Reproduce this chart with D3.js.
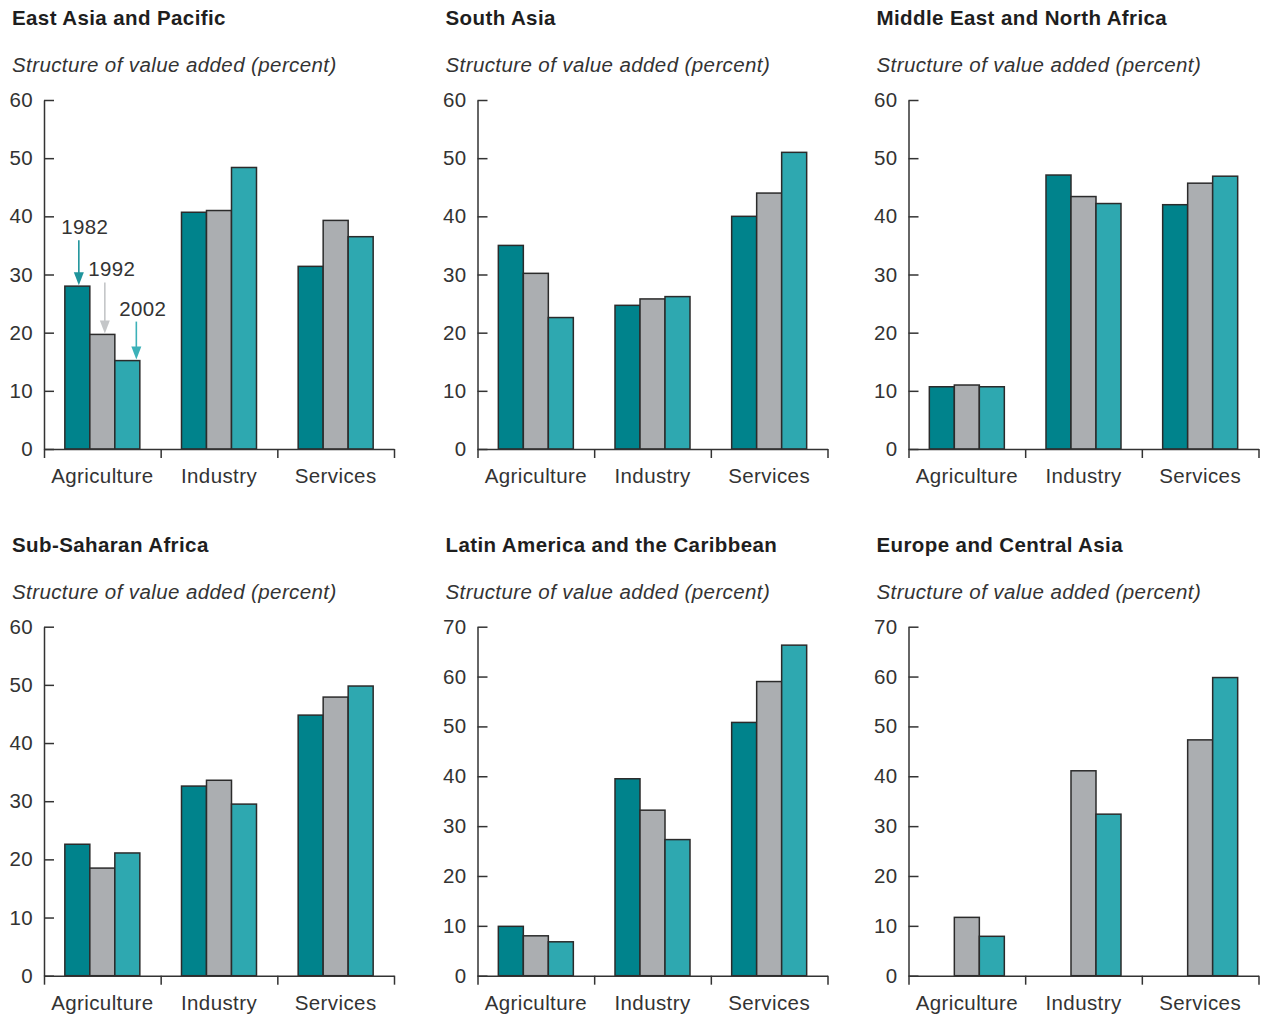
<!DOCTYPE html>
<html>
<head>
<meta charset="utf-8">
<script src="https://cdn.jsdelivr.net/npm/d3@7"></script>
<style>
  html, body { margin: 0; padding: 0; background: #fff; }
  svg { display: block; font-family: "Liberation Sans", Arial, Helvetica, sans-serif; }
  svg text { letter-spacing: 0.4px; }
</style>
</head>
<body>
<svg id="chart" width="1263" height="1016"></svg>
<script>
// Regional structure of value added, by sector, 1982 / 1992 / 2002
const regions = [
  "East Asia and Pacific",
  "South Asia",
  "Middle East and North Africa",
  "Sub-Saharan Africa",
  "Latin America and the Caribbean",
  "Europe and Central Asia"
];
const sectors = ["Agriculture", "Industry", "Services"];
const years = ["1982", "1992", "2002"];
const subtitle = "Structure of value added (percent)";

// Upper limit of each panel's value axis and its tick labels
const yMax = [60, 60, 60, 60, 70, 70];
const ticks60 = [0, 10, 20, 30, 40, 50, 60];
const ticks70 = [0, 10, 20, 30, 40, 50, 60, 70];

// Share of value added per region: [Agriculture, Industry, Services]
const val1982 = [
  [28.0, 40.7, 31.4],
  [35.0, 24.7, 40.0],
  [10.7, 47.1, 42.0],
  [22.6, 32.6, 44.8],
  [9.9, 39.5, 50.8],
  [null, null, null]
];
const val1992 = [
  [19.7, 41.0, 39.3],
  [30.2, 25.8, 44.0],
  [11.0, 43.4, 45.7],
  [18.5, 33.6, 47.9],
  [8.0, 33.2, 59.0],
  [11.7, 41.1, 47.3]
];
const val2002 = [
  [15.2, 48.4, 36.5],
  [22.6, 26.2, 51.0],
  [10.7, 42.2, 46.9],
  [21.1, 29.5, 49.8],
  [6.8, 27.3, 66.3],
  [7.9, 32.4, 59.8]
];

const barColor = { "1982": "#00838c", "1992": "#abaeb1", "2002": "#2ea8b0" };
const arrowColor = { "1982": "#1f949b", "1992": "#c4c6c8", "2002": "#3cb1b8" };

// Panel geometry
const colX = [44, 477.5, 908.5];
const rowY = [100, 626.7];
const plotW = 350, plotH = 349;
const groupW = 75;
const fs = 20.5;

const svg = d3.select("#chart");

regions.forEach((name, i) => {
  const col = i % 3, row = Math.floor(i / 3);
  const x0 = colX[col], y0 = rowY[row];
  const g = svg.append("g").attr("transform", `translate(${x0},${y0})`);

  // Titles
  g.append("text")
    .attr("x", -32).attr("y", -75)
    .attr("font-size", fs).attr("font-weight", "bold").attr("fill", "#1e1e1e")
    .text(name);
  g.append("text")
    .attr("x", -32).attr("y", -28)
    .attr("font-size", fs).attr("font-style", "italic").attr("fill", "#333")
    .text(subtitle);

  const y = d3.scaleLinear().domain([0, yMax[i]]).range([plotH, 0]);
  const x = d3.scaleBand().domain(sectors).range([0, plotW]).padding(0);
  const pad = (x.bandwidth() - groupW) / 2;
  const xs = d3.scaleBand().domain(years).range([pad, pad + groupW]).padding(0);

  const rows = sectors.map((s, k) => ({
    sector: s,
    values: [
      { year: "1982", v: val1982[i][k] },
      { year: "1992", v: val1992[i][k] },
      { year: "2002", v: val2002[i][k] }
    ]
  }));

  // Bars
  const grp = g.selectAll("g.sector").data(rows).join("g")
    .attr("class", "sector")
    .attr("transform", d => `translate(${x(d.sector)},0)`);
  grp.selectAll("rect")
    .data(d => d.values.filter(e => e.v != null))
    .join("rect")
    .attr("x", d => xs(d.year))
    .attr("width", xs.bandwidth())
    .attr("y", d => y(d.v))
    .attr("height", d => plotH - y(d.v))
    .attr("fill", d => barColor[d.year])
    .attr("stroke", "#2b2b2b")
    .attr("stroke-width", 1.5);

  // Value axis: ticks point inward, labels on the left
  const yAxis = g.append("g")
    .call(d3.axisLeft(y).tickValues(yMax[i] === 70 ? ticks70 : ticks60)
      .tickSizeInner(-10).tickSizeOuter(0).tickPadding(11));
  yAxis.selectAll("text").attr("font-size", fs).attr("fill", "#333")
    .attr("font-family", "Liberation Sans, Arial, sans-serif");
  yAxis.selectAll("line, path").attr("stroke", "#333").attr("stroke-width", 1.5);

  // Category axis: boundary ticks hanging below the baseline
  const xb = d3.scaleLinear().domain([0, sectors.length]).range([0, plotW]);
  const xAxis = g.append("g").attr("transform", `translate(0,${plotH})`)
    .call(d3.axisBottom(xb).tickValues(d3.range(sectors.length + 1))
      .tickFormat("").tickSizeInner(9).tickSizeOuter(0));
  xAxis.selectAll("line, path").attr("stroke", "#333").attr("stroke-width", 1.5);

  g.selectAll("text.cat").data(sectors).join("text")
    .attr("class", "cat")
    .attr("x", d => x(d) + x.bandwidth() / 2)
    .attr("y", plotH + 34)
    .attr("text-anchor", "middle")
    .attr("font-size", fs).attr("fill", "#333")
    .text(d => d);

  // Year call-outs on the first panel's agriculture bars
  if (i === 0) {
    const shaft = { "1982": 45, "1992": 51, "2002": 38 };
    const dx = { "1982": 1.5, "1992": 2.5, "2002": 9 };
    const labelDx = { "1982": 6, "1992": 7, "2002": 6.5 };
    const agri = rows[0].values;
    agri.forEach(d => {
      const cx = x("Agriculture") + xs(d.year) + xs.bandwidth() / 2 + dx[d.year];
      const tip = y(d.v) - 1;
      const top = tip - shaft[d.year];
      const c = arrowColor[d.year];
      g.append("line")
        .attr("x1", cx).attr("x2", cx)
        .attr("y1", top).attr("y2", tip - 8)
        .attr("stroke", c).attr("stroke-width", 1.6);
      g.append("path")
        .attr("d", `M${cx - 5},${tip - 13} L${cx + 5},${tip - 13} L${cx},${tip} Z`)
        .attr("fill", c);
      g.append("text")
        .attr("x", cx + labelDx[d.year]).attr("y", top - 6)
        .attr("text-anchor", "middle")
        .attr("font-size", fs).attr("fill", "#333")
        .text(d.year);
    });
  }
});
</script>
</body>
</html>
